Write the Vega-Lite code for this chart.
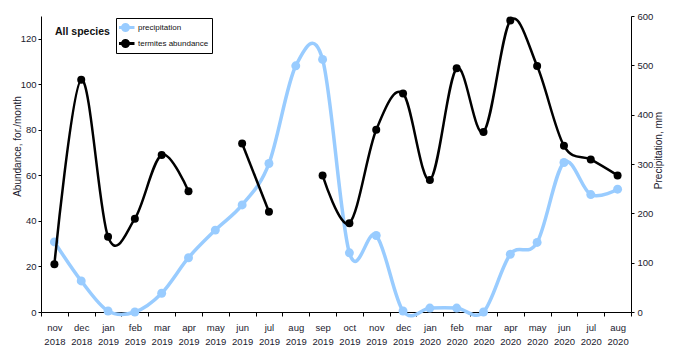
{
  "$schema": "https://vega.github.io/schema/vega-lite/v6.json",
  "width": 590,
  "height": 296,
  "autosize": {"type": "none"},
  "padding": {"left": 41, "top": 16, "right": 45, "bottom": 46},
  "background": "white",
  "title": {"text": "All species", "anchor": "start", "frame": "group", "orient": "top", "offset": -26, "dx": 14,
    "fontSize": 10.5, "fontWeight": "bold", "font": "Liberation Sans", "color": "#111"},
  "config": {
    "view": {"stroke": null},
    "font": "Liberation Sans",
    "axis": {
      "grid": false,
      "domainColor": "black",
      "tickColor": "black",
      "labelColor": "#1a1a2e",
      "titleColor": "#1a1a2e",
      "labelFont": "Liberation Sans",
      "titleFont": "Liberation Sans",
      "labelFontSize": 9.5,
      "titleFontSize": 10,
      "titleFontWeight": "normal"
    }
  },
  "datasets": {
    "precip": [
      {"month": "nov 2018", "precipitation": 142},
      {"month": "dec 2018", "precipitation": 63},
      {"month": "jan 2019", "precipitation": 2},
      {"month": "feb 2019", "precipitation": 0},
      {"month": "mar 2019", "precipitation": 38},
      {"month": "apr 2019", "precipitation": 110},
      {"month": "may 2019", "precipitation": 166},
      {"month": "jun 2019", "precipitation": 217},
      {"month": "jul 2019", "precipitation": 301},
      {"month": "aug 2019", "precipitation": 499},
      {"month": "sep 2019", "precipitation": 512},
      {"month": "oct 2019", "precipitation": 120},
      {"month": "nov 2019", "precipitation": 155},
      {"month": "dec 2019", "precipitation": 2},
      {"month": "jan 2020", "precipitation": 8},
      {"month": "feb 2020", "precipitation": 8},
      {"month": "mar 2020", "precipitation": 0},
      {"month": "apr 2020", "precipitation": 117},
      {"month": "may 2020", "precipitation": 141},
      {"month": "jun 2020", "precipitation": 303},
      {"month": "jul 2020", "precipitation": 238},
      {"month": "aug 2020", "precipitation": 249}
    ],
    "abund": [
      {"month": "nov 2018", "abundance": 21, "seg": 1},
      {"month": "dec 2018", "abundance": 102, "seg": 1},
      {"month": "jan 2019", "abundance": 33, "seg": 1},
      {"month": "feb 2019", "abundance": 41, "seg": 1},
      {"month": "mar 2019", "abundance": 69, "seg": 1},
      {"month": "apr 2019", "abundance": 53, "seg": 1},
      {"month": "jun 2019", "abundance": 74, "seg": 2},
      {"month": "jul 2019", "abundance": 44, "seg": 2},
      {"month": "sep 2019", "abundance": 60, "seg": 3},
      {"month": "oct 2019", "abundance": 39, "seg": 3},
      {"month": "nov 2019", "abundance": 80, "seg": 3},
      {"month": "dec 2019", "abundance": 96, "seg": 3},
      {"month": "jan 2020", "abundance": 58, "seg": 3},
      {"month": "feb 2020", "abundance": 107, "seg": 3},
      {"month": "mar 2020", "abundance": 79, "seg": 3},
      {"month": "apr 2020", "abundance": 128, "seg": 3},
      {"month": "may 2020", "abundance": 108, "seg": 3},
      {"month": "jun 2020", "abundance": 73, "seg": 3},
      {"month": "jul 2020", "abundance": 67, "seg": 3},
      {"month": "aug 2020", "abundance": 60, "seg": 3}
    ]
  },
  "layer": [
    {
      "data": {"name": "precip"},
      "encoding": {
        "x": {
          "field": "month", "type": "ordinal", "bandPosition": 0.5,
          "scale": {"type": "band", "paddingInner": 0, "paddingOuter": 0,
            "domain": ["nov 2018","dec 2018","jan 2019","feb 2019","mar 2019","apr 2019","may 2019","jun 2019","jul 2019","aug 2019","sep 2019","oct 2019","nov 2019","dec 2019","jan 2020","feb 2020","mar 2020","apr 2020","may 2020","jun 2020","jul 2020","aug 2020"]},
          "axis": {"title": null, "labelAngle": 0, "tickBand": "extent", "tickSize": 4, "labelPadding": 6, "labelLineHeight": 14,
            "labelExpr": "split(datum.label, ' ')"}
        },
        "y": {
          "field": "precipitation", "type": "quantitative",
          "scale": {"domain": [0, 600], "nice": false},
          "axis": {"orient": "right", "title": "Precipitation, mm", "titleAngle": 270, "values": [0,100,200,300,400,500,600],
            "tickSize": 3, "labelPadding": 3, "titlePadding": 11, "titleY": 134}
        }
      },
      "layer": [
        {
          "mark": {"type": "line", "interpolate": "cardinal", "strokeWidth": 3.5},
          "encoding": {
            "color": {"datum": "precipitation", "type": "nominal",
              "scale": {"domain": ["precipitation", "termites abundance"], "range": ["#99CCFF", "#000000"]},
              "legend": {
                "title": null, "orient": "none", "legendX": 75, "legendY": 2,
                "strokeColor": "black", "fillColor": "white", "padding": 3,
                "labelFontSize": 8, "labelFont": "Liberation Sans", "labelColor": "#111",
                "symbolType": "M-1.8,0L1.8,0M0.6,0A0.6,0.6,0,1,1,-0.6,0A0.6,0.6,0,1,1,0.6,0Z",
                "symbolSize": 100, "symbolStrokeWidth": 3, "rowPadding": 3, "clipHeight": 13, "labelOffset": 6,
                "encode": {"symbols": {"update": {"fill": {"scale": "color", "field": "value"}, "stroke": {"scale": "color", "field": "value"}}}}
              }
            }
          }
        },
        {
          "mark": {"type": "point", "filled": true, "opacity": 1, "size": 80, "shape": "circle"},
          "encoding": {"color": {"datum": "precipitation", "type": "nominal"}}
        }
      ]
    },
    {
      "data": {"name": "abund"},
      "encoding": {
        "x": {"field": "month", "type": "ordinal", "bandPosition": 0.5},
        "y": {
          "field": "abundance", "type": "quantitative",
          "scale": {"domain": [0, 130], "nice": false},
          "axis": {"orient": "left", "title": "Abundance, for./month", "values": [0,20,40,60,80,100,120],
            "tickSize": 3, "labelPadding": 2, "titlePadding": 2, "titleX": -19, "titleY": 130}
        }
      },
      "layer": [
        {
          "mark": {"type": "line", "interpolate": "cardinal", "strokeWidth": 2.5},
          "encoding": {"color": {"datum": "termites abundance", "type": "nominal"}, "detail": {"field": "seg"}}
        },
        {
          "mark": {"type": "point", "filled": true, "opacity": 1, "size": 64, "shape": "circle"},
          "encoding": {"color": {"datum": "termites abundance", "type": "nominal"}}
        }
      ]
    }
  ],
  "resolve": {"scale": {"y": "independent"}}
}
